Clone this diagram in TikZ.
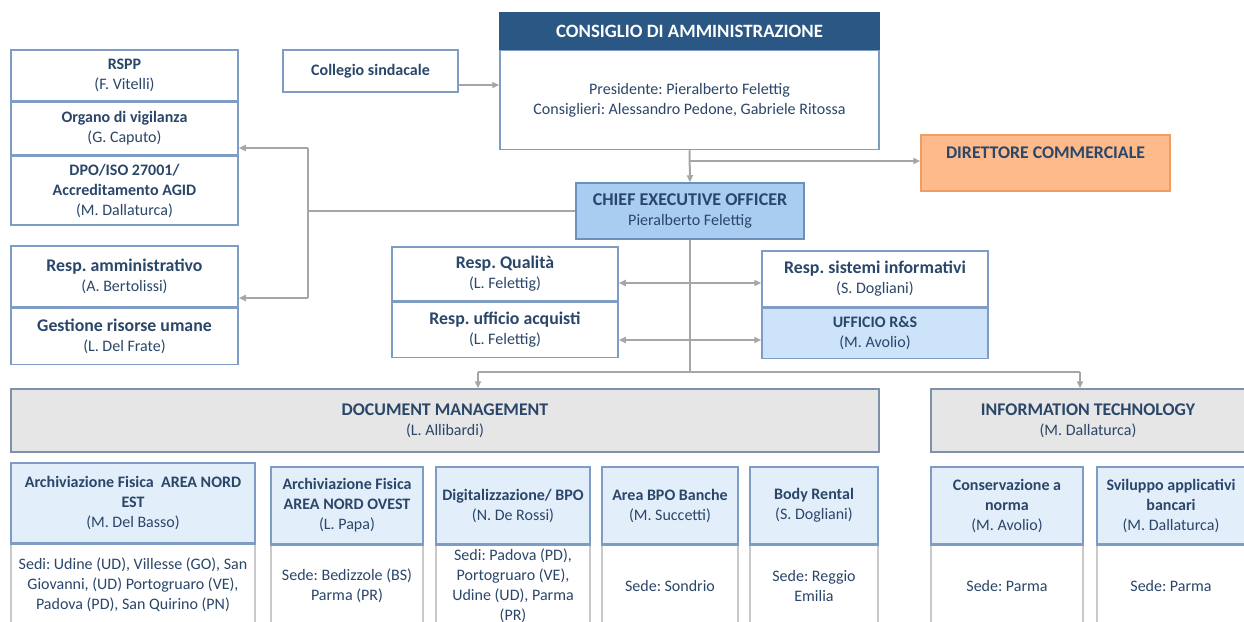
\documentclass[tikz,border=0pt]{standalone}
\usepackage{fontspec}
\setmainfont{Carlito}
\frenchspacing
\usetikzlibrary{positioning,arrows.meta}
\definecolor{textblue}{HTML}{2A4669}
\definecolor{boxline}{HTML}{7E9CC4}
\definecolor{cdablue}{HTML}{2A5783}
\definecolor{ceoblue}{HTML}{A9CDF1}
\definecolor{ceoline}{HTML}{6C8FBC}
\definecolor{rsblue}{HTML}{CDE3F9}
\definecolor{unitblue}{HTML}{E3EEFB}
\definecolor{grayfill}{HTML}{E6E6E6}
\definecolor{grayline}{HTML}{7F91A8}
\definecolor{orangefill}{HTML}{FDBA8B}
\definecolor{orangeline}{HTML}{F19D62}
\definecolor{conngray}{HTML}{A6A6A6}
\definecolor{sedigray}{HTML}{C9C9C9}
\newcommand{\hd}[1]{{\fontsize{8.9}{10}\selectfont\bfseries #1}}
\tikzset{
  box/.style={draw=boxline, line width=0.75pt, fill=white, text=textblue, align=center,
    inner sep=1pt, font=\fontsize{8}{10}\selectfont},
  head/.style={box, fill=cdablue, draw=cdablue, text=white},
  ceobox/.style={box, fill=ceoblue, draw=ceoline},
  areabox/.style={box, fill=grayfill, draw=grayline, minimum height=31.5pt},
  unitbox/.style={box, fill=unitblue},
  sedibox/.style={box, draw=sedigray, minimum height=40pt},
  line/.style={draw=conngray, line width=1pt},
  conn/.style={line, -{Triangle[length=3.5pt,width=3pt]}},
  both/.style={line, {Triangle[length=3.5pt,width=3pt]}-{Triangle[length=3.5pt,width=3pt]}}
}
\begin{document}
\begin{tikzpicture}[x=0.5pt,y=-0.5pt]
\useasboundingbox (0,0) rectangle (1244,622);
\fill[white] (0,0) rectangle (1244,622);

\node[box, minimum width=113.5pt, minimum height=25.5pt] (rspp) at (124.5,75.5) {\textbf{RSPP}\\(F. Vitelli)};
\node[box, minimum width=113.5pt, minimum height=26pt, below=0pt of rspp] (vigilanza) {\textbf{Organo di vigilanza}\\(G. Caputo)};
\node[box, minimum width=113.5pt, minimum height=34.5pt, below=0pt of vigilanza] (dpo) {\textbf{DPO/ISO 27001/}\\\textbf{Accreditamento AGID}\\(M. Dallaturca)};

\node[box, minimum width=113.5pt, minimum height=30.5pt] (amministrativo) at (124.5,276.5) {\hd{Resp. amministrativo}\\(A. Bertolissi)};
\node[box, minimum width=113.5pt, minimum height=28pt, below=0pt of amministrativo] (risorse) {\hd{Gestione risorse umane}\\(L. Del Frate)};

\node[box, minimum width=87.5pt, minimum height=21pt] (collegio) at (370.5,71) {\textbf{Collegio sindacale}};

\node[head, minimum width=189.5pt, minimum height=18pt] (cdahead) at (689.5,31) {{\fontsize{9.4}{10}\selectfont\bfseries CONSIGLIO DI AMMINISTRAZIONE}};
\node[box, minimum width=189.5pt, minimum height=49.5pt, below=0pt of cdahead] (cdabody) {Presidente: Pieralberto Felettig\\Consiglieri: Alessandro Pedone, Gabriele Ritossa};

\node[box, fill=orangefill, draw=orangeline, minimum width=124.5pt, minimum height=28pt] (direttore) at (1045.5,163) {\hd{DIRETTORE COMMERCIALE}\\\mbox{}};

\node[ceobox, minimum width=114pt, minimum height=28pt] (ceo) at (690,211) {{\fontsize{9}{10}\selectfont\bfseries CHIEF EXECUTIVE OFFICER}\\Pieralberto Felettig};

\node[box, minimum width=113pt, minimum height=27pt] (qualita) at (505,274) {\hd{Resp. Qualità}\\(L. Felettig)};
\node[box, minimum width=113pt, minimum height=27.5pt, below=0pt of qualita] (acquisti) {\hd{Resp. ufficio acquisti}\\(L. Felettig)};

\node[box, minimum width=113pt, minimum height=28pt] (sistemi) at (875,279) {\hd{Resp. sistemi informativi}\\(S. Dogliani)};
\node[box, fill=rsblue, minimum width=113pt, minimum height=25pt, below=0pt of sistemi] (ricerca) {\textbf{UFFICIO R\&S}\\(M. Avolio)};

\node[areabox, minimum width=434pt] (dm) at (445,420.5) {\hd{DOCUMENT MANAGEMENT}\\(L. Allibardi)};
\node[areabox, minimum width=157pt] (it) at (1088,420.5) {\hd{INFORMATION TECHNOLOGY}\\(M. Dallaturca)};

\node[unitbox, minimum width=122pt, minimum height=40pt] (nordest) at (133,503) {\textbf{Archiviazione Fisica\ \ AREA NORD}\\\textbf{EST}\\(M. Del Basso)};
\node[unitbox, minimum width=76pt, minimum height=38.5pt] (nordovest) at (347,505.5) {\textbf{Archiviazione Fisica}\\\textbf{AREA NORD OVEST}\\(L. Papa)};
\node[unitbox, minimum width=77pt, minimum height=38.5pt] (digit) at (513,505.5) {\textbf{Digitalizzazione/ BPO}\\(N. De Rossi)};
\node[unitbox, minimum width=68pt, minimum height=38.5pt] (bpo) at (670,505.5) {\textbf{Area BPO Banche}\\(M. Succetti)};
\node[unitbox, minimum width=64pt, minimum height=38.5pt] (body) at (814,505.5) {\textbf{Body Rental}\\(S. Dogliani)};
\node[unitbox, minimum width=76pt, minimum height=38.5pt] (conserv) at (1007,505.5) {\textbf{Conservazione a}\\\textbf{norma}\\(M. Avolio)};
\node[unitbox, minimum width=74pt, minimum height=38.5pt] (sviluppo) at (1171,505.5) {\textbf{Sviluppo applicativi}\\\textbf{bancari}\\(M. Dallaturca)};

\node[sedibox, minimum width=122pt, below=0pt of nordest] (sedinordest) {Sedi: Udine (UD), Villesse (GO), San\\Giovanni, (UD) Portogruaro (VE),\\Padova (PD), San Quirino (PN)};
\node[sedibox, minimum width=76pt, below=0pt of nordovest] (sedinordovest) {Sede: Bedizzole (BS)\\Parma (PR)};
\node[sedibox, minimum width=77pt, below=0pt of digit] (sedidigit) {Sedi: Padova (PD),\\Portogruaro (VE),\\Udine (UD), Parma\\(PR)};
\node[sedibox, minimum width=68pt, below=0pt of bpo] (sedibpo) {Sede: Sondrio};
\node[sedibox, minimum width=64pt, below=0pt of body] (sedibody) {Sede: Reggio\\Emilia};
\node[sedibox, minimum width=76pt, below=0pt of conserv] (sediconserv) {Sede: Parma};
\node[sedibox, minimum width=74pt, below=0pt of sviluppo] (sedisviluppo) {Sede: Parma};
\foreach \unit in {nordest,nordovest,digit,bpo,body,conserv,sviluppo}
  \draw[boxline, line width=0.75pt] (\unit.south west) -- (\unit.south east);

\coordinate (split) at (689,161);
\coordinate (staff) at (308,211);
\coordinate (stafftop) at (308,148);
\coordinate (staffbot) at (308,298);
\coordinate (bus) at (690,372);
\coordinate (busl) at (478,372);
\coordinate (busr) at (1080,372);

\draw[conn] ([yshift=-7pt]collegio.east) -- ([yshift=-7pt]collegio.east -| cdabody.west);
\draw[conn] (cdabody.south) -- (ceo.north);
\draw[conn] (split) -- (split -| direttore.west);
\draw[line] (ceo.west) -- (staff);
\draw[line] (stafftop) -- (staffbot);
\draw[conn] (stafftop) -- (stafftop -| vigilanza.east);
\draw[conn] (staffbot) -- (staffbot -| amministrativo.east);
\draw[line] (ceo.south) -- (bus);
\draw[line] (busl) -- (busr);
\draw[conn] (busl) -- (busl |- dm.north);
\draw[conn] (busr) -- (busr |- it.north);
\draw[both] ([yshift=-4.5pt]qualita.east) -- ([yshift=-4.5pt]qualita.east -| sistemi.west);
\draw[both] ([yshift=-5pt]acquisti.east) -- ([yshift=-5pt]acquisti.east -| ricerca.west);
\end{tikzpicture}
\end{document}
